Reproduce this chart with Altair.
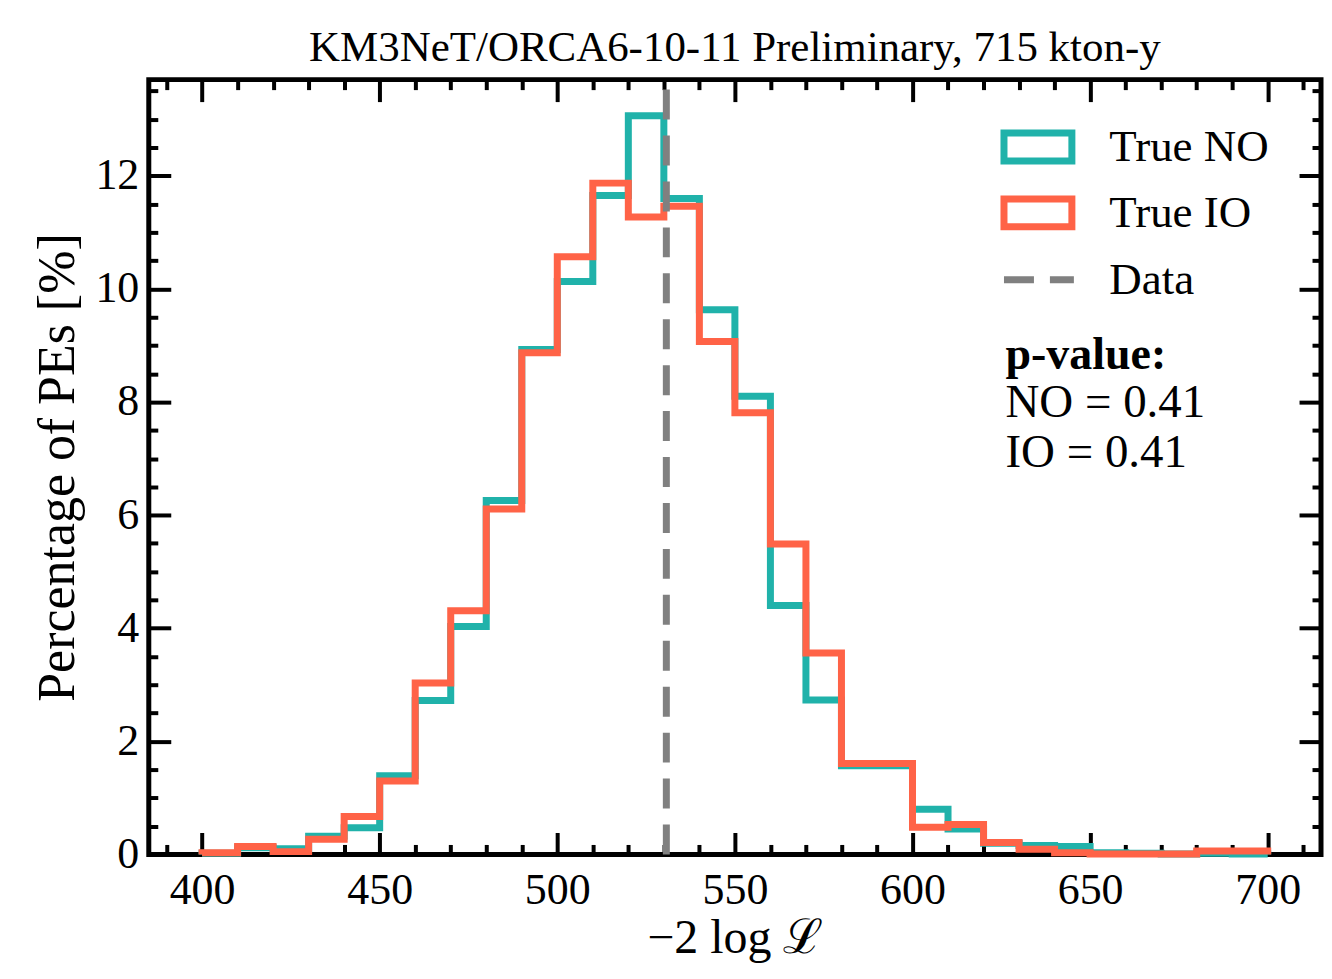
import altair as alt
import pandas as pd

# ---------------- data ----------------
bin_lefts = list(range(400, 700, 10))          # 30 bins of width 10
bin_right_end = 700
true_no = [0.02, 0.12, 0.10, 0.32, 0.47, 1.39, 2.72, 4.03, 6.26, 8.93,
           10.13, 11.65, 13.06, 11.60, 9.63, 8.10, 4.40, 2.73, 1.57, 1.57,
           0.80, 0.45, 0.20, 0.16, 0.14, 0.03, 0.02, 0.01, 0.02, 0.01]
true_io = [0.03, 0.14, 0.05, 0.27, 0.67, 1.30, 3.03, 4.31, 6.11, 8.87,
           10.57, 11.87, 11.27, 11.46, 9.07, 7.81, 5.49, 3.56, 1.61, 1.61,
           0.48, 0.53, 0.21, 0.09, 0.03, 0.01, 0.01, 0.01, 0.06, 0.06]
data_value = [530.7]
series_names = ["True NO", "True IO"]
series_colors = ["#20b2aa", "#ff6347"]
data_name = ["Data"]
x_major = list(range(400, 701, 50))
x_minor = [v for v in range(390, 711, 10) if v % 50 != 0]
y_major = list(range(0, 13, 2))
y_minor = [v / 2 for v in range(0, 28) if v % 4 != 0]
x_domain = [385, 715]
y_domain = [0, 13.7]
pvalue_lines = ["p-value:", "NO = 0.41", "IO = 0.41"]

FONT = "Liberation Serif"

rows = []
for name, vals in zip(series_names, [true_no, true_io]):
    pts = [(bin_lefts[0], 0.0)] + list(zip(bin_lefts, vals)) + [(bin_right_end, vals[-1]), (bin_right_end, 0.0)]
    for k, (xv, yv) in enumerate(pts):
        rows.append({"series": name, "x": xv, "y": yv, "order": k})
steps = pd.DataFrame(rows)
rule_df = pd.DataFrame({"kind": data_name, "x": data_value})

xs = alt.Scale(domain=x_domain, nice=False, zero=False)
ys = alt.Scale(domain=y_domain, nice=False, zero=False)

common_axis = dict(domain=False, grid=False, tickColor="black", tickWidth=4,
                   labelFont=FONT, labelFontSize=44, labelColor="black")

def ax(values, size, orient, labels=False, title=None, **kw):
    d = dict(common_axis)
    d.update(kw)
    return alt.Axis(values=values, tickSize=alt.ExprRef(str(-size)), orient=orient,
                    labels=labels, title=title, **d)

color_legend = alt.Legend(
    title=None, orient="none", legendX=853, legendY=30, padding=0, rowPadding=0,
    symbolType="M-1,-0.41H1V0.41H-1Z", symbolSize=68 * 68, symbolStrokeWidth=7,
    symbolFillColor="white", labelFont=FONT, labelFontSize=45, labelColor="black",
    labelOffset=34, labelLimit=400,
)
color_enc = alt.Color("series:N", scale=alt.Scale(domain=series_names, range=series_colors),
                      legend=color_legend)

base = alt.Chart(steps)

no_layer = base.transform_filter(alt.datum.series == "True NO").mark_line(
    interpolate="step-after", strokeWidth=7, strokeJoin="miter"
).encode(
    x=alt.X("x:Q", scale=xs, axis=ax(x_major, 22, "bottom", labels=True,
                                     title="−2 log ℒ", labelPadding=36,
                                     titleFont=FONT, titleFontSize=48, titleFontWeight="normal",
                                     titleColor="black", titlePadding=2)),
    y=alt.Y("y:Q", scale=ys, axis=ax(y_major, 22, "left", labels=True,
                                     title="Percentage of PEs [%]", labelPadding=32,
                                     titleFont=FONT, titleFontSize=52, titleFontWeight="normal",
                                     titleColor="black", titlePadding=10)),
    color=color_enc,
    order="order:Q",
)

io_layer = base.transform_filter(alt.datum.series == "True IO").mark_line(
    interpolate="step-after", strokeWidth=7, strokeJoin="miter"
).encode(
    x=alt.X("x:Q", scale=xs, axis=ax(x_minor, 10, "bottom")),
    y=alt.Y("y:Q", scale=ys, axis=ax(y_minor, 9, "left")),
    color=color_enc,
    order="order:Q",
)

rule_layer = alt.Chart(rule_df).mark_rule(strokeWidth=7, color="#808080").encode(
    x=alt.X("x:Q", scale=xs, axis=ax(x_major, 22, "top")),
    y=alt.datum(y_domain[0], scale=ys, axis=ax(y_major, 22, "right")),
    y2=alt.datum(y_domain[1]),
    strokeDash=alt.StrokeDash("kind:N", scale=alt.Scale(domain=data_name, range=[[30, 16]]),
                              legend=alt.Legend(title=None, orient="none", legendX=853, legendY=162,
                                                padding=0, symbolType="stroke", symbolSize=70 * 70,
                                                symbolStrokeWidth=7, symbolStrokeColor="#808080",
                                                symbolDash=[30, 12],
                                                labelFont=FONT, labelFontSize=45, labelColor="black",
                                                labelOffset=32)),
)

tick_layer = base.mark_point(opacity=0).encode(
    x=alt.X("x:Q", scale=xs, axis=ax(x_minor, 10, "top")),
    y=alt.Y("y:Q", scale=ys, axis=ax(y_minor, 9, "right")),
)

ptxt = pd.DataFrame({"t": pvalue_lines, "i": [0, 1, 2]})
p_bold = alt.Chart(ptxt.iloc[[0]]).mark_text(
    font=FONT, fontSize=46, fontWeight="bold", align="left", baseline="middle", color="black"
).encode(text="t:N", x=alt.value(858), y=alt.value(276))
p_rest1 = alt.Chart(ptxt.iloc[[1]]).mark_text(
    font=FONT, fontSize=47, align="left", baseline="middle", color="black"
).encode(text="t:N", x=alt.value(858), y=alt.value(324))
p_rest2 = alt.Chart(ptxt.iloc[[2]]).mark_text(
    font=FONT, fontSize=47, align="left", baseline="middle", color="black"
).encode(text="t:N", x=alt.value(858), y=alt.value(374))

chart = alt.layer(no_layer, io_layer, rule_layer, tick_layer, p_bold, p_rest1, p_rest2).resolve_axis(
    x="independent", y="independent"
).properties(
    width=1174, height=776,
    autosize=alt.AutoSizeParams(type="none"),
    padding={"left": 141, "top": 71, "right": 3, "bottom": 120},
    background="white",
    title=alt.TitleParams("KM3NeT/ORCA6-10-11 Preliminary, 715 kton-y", font=FONT, fontSize=43,
                          fontWeight="normal", color="black", anchor="middle", offset=6),
).configure_view(stroke="black", strokeWidth=5)

chart.save("out.html", embed_options={"renderer": "svg", "actions": False})
